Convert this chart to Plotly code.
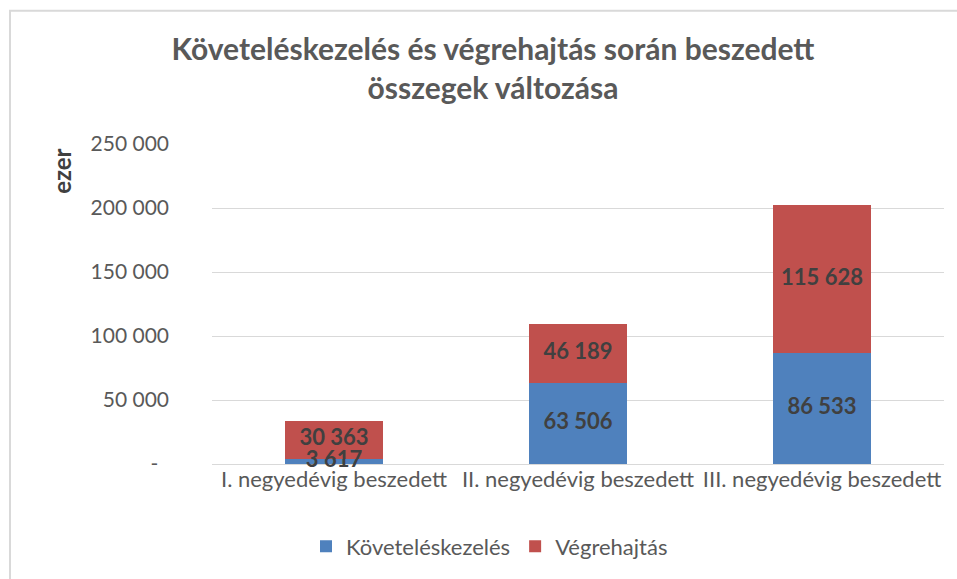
import plotly.graph_objects as go

categories = ["I. negyedévig beszedett", "II. negyedévig beszedett", "III. negyedévig beszedett"]
kovetel = [3617, 63506, 86533]
vegreh = [30363, 46189, 115628]
series_names = ["Követeléskezelés", "Végrehajtás"]
tick_vals = [0, 50000, 100000, 150000, 200000, 250000]
tick_text = ["-\u00a0\u00a0", "50 000", "100 000", "150 000", "200 000", "250 000"]

BLUE = "#4F81BD"
RED = "#C0504D"
GRAY = "#595959"
FONT = "Lato"

def fmt(v):
    return f"{v:,}".replace(",", " ")

W, H = 957, 579
L, R, T, B = 212, 13, 144, 113
pw, ph = W - L - R, H - T - B

fig = go.Figure()
fig.add_trace(go.Bar(x=categories, y=kovetel, name=series_names[0],
                     marker=dict(color=BLUE, line=dict(width=0)), width=0.4))
fig.add_trace(go.Bar(x=categories, y=vegreh, name=series_names[1],
                     marker=dict(color=RED, line=dict(width=0)), width=0.4))

# data labels at segment centres
mid1 = [v / 2 for v in kovetel]
mid2 = [k + v / 2 for k, v in zip(kovetel, vegreh)]
fig.add_trace(go.Scatter(x=categories + categories, y=mid1 + mid2, mode="text",
                         text=[fmt(v) for v in kovetel] + [fmt(v) for v in vegreh],
                         textfont=dict(family=FONT, size=22, color="#404040", weight="bold"),
                         showlegend=False, hoverinfo="skip", cliponaxis=False))

fig.update_layout(
    width=W, height=H,
    margin=dict(l=L, r=R, t=T, b=B),
    barmode="stack",
    paper_bgcolor="white", plot_bgcolor="white",
    font=dict(family=FONT, color=GRAY, size=21),
    title=dict(text="Követeléskezelés és végrehajtás során beszedett<br>összegek változása",
               x=493 / W, xanchor="center", y=1 - 60 / H, yanchor="top",
               font=dict(family=FONT, size=30, color=GRAY, weight="bold")),
    showlegend=True,
    legend=dict(orientation="h", x=(306 - L) / pw, xanchor="left",
                y=(H - B - 549) / ph, yanchor="middle",
                font=dict(family=FONT, size=22, color=GRAY),
                itemwidth=30, traceorder="normal"),
    xaxis=dict(showgrid=False, showline=False, ticks="", range=[-0.5, 2.5],
               tickfont=dict(family=FONT, size=22, color=GRAY)),
    yaxis=dict(range=[0, 250000], tickvals=tick_vals, ticktext=tick_text,
               showgrid=True, gridcolor="#D9D9D9", gridwidth=1,
               zeroline=True, zerolinecolor="#D9D9D9", zerolinewidth=1,
               showline=False, ticks="", ticklabelstandoff=42,
               tickfont=dict(family=FONT, size=21, color=GRAY)),
)

fig.add_annotation(text="ezer", textangle=-90, xref="paper", yref="paper",
                   x=(62 - L) / pw, y=(H - B - 172) / ph, showarrow=False,
                   xanchor="center", yanchor="middle",
                   font=dict(family=FONT, size=24, color="#404040", weight="bold"))

fig.add_shape(type="rect", xref="paper", yref="paper",
              x0=(10 - L) / pw, x1=(W + 20 - L) / pw,
              y0=(H - B - (H + 20)) / ph, y1=(H - B - 10) / ph,
              line=dict(color="#D9D9D9", width=2), fillcolor="rgba(0,0,0,0)", layer="below")

fig.write_html("out.html", config={"displayModeBar": False},
               post_script="document.body.style.margin='0';document.body.style.overflow='hidden';")
